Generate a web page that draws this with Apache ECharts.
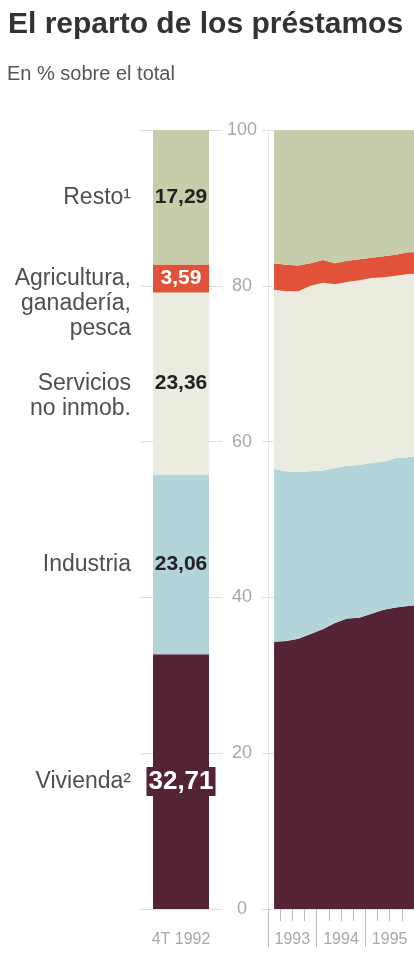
<!DOCTYPE html>
<html>
<head>
<meta charset="utf-8">
<script src="https://cdn.jsdelivr.net/npm/echarts@6/dist/echarts.min.js"></script>
<style>
html,body{margin:0;padding:0;background:#fff;}
#chart{width:414px;height:969px;}
</style>
</head>
<body>
<div id="chart"></div>
<script>
// ---- data ----
const barCategory = ['4T 1992'];
const sectorNames = ['Vivienda²', 'Industria', 'Servicios\nno inmob.', 'Agricultura,\nganadería,\npesca', 'Resto¹'];
const values1992 = [32.71, 23.06, 23.36, 3.59, 17.29];

// quarters (the last one runs past the visible edge and is clipped)
const quarters = ['1T 1993','2T 1993','3T 1993','4T 1993','1T 1994','2T 1994','3T 1994','4T 1994',
                  '1T 1995','2T 1995','3T 1995','4T 1995','1T 1996'];
const years = ['1993', '1994', '1995'];

const vivienda    = [34.3, 34.4, 34.7, 35.3, 35.9, 36.7, 37.3, 37.4, 37.9, 38.4, 38.7, 38.9, 39.0];
const industria   = [22.2, 21.8, 21.4, 20.9, 20.4, 19.9, 19.6, 19.6, 19.4, 19.0, 19.2, 19.1, 19.2];
const servicios   = [23.0, 23.1, 23.2, 23.8, 24.1, 23.6, 23.6, 23.7, 23.7, 23.7, 23.4, 23.5, 23.4];
const agricultura = [3.4, 3.4, 3.3, 2.9, 2.9, 2.7, 2.7, 2.7, 2.6, 2.7, 2.7, 2.8, 2.7];
const resto       = [17.1, 17.3, 17.4, 17.1, 16.7, 17.1, 16.8, 16.6, 16.4, 16.2, 16.0, 15.7, 15.7];
const areaSeries = [vivienda, industria, servicios, agricultura, resto];

const yMin = 0, yMax = 100, yInterval = 20;
const xMin = 1993, xMax = 1996;

// ---- style ----
const colors = ['#542335', '#b3d4d9', '#ebecdf', '#e0533a', '#c5cdab'];
const valueLabelColors = ['#fff', '#222', '#222', '#fff', '#222'];
const FONT = '"Liberation Sans", Arial, Helvetica, sans-serif';
const gridColor = '#dedede';
const axisTextColor = '#a8a8a8';

const fmt = v => v.toFixed(2).replace('.', ',');

const series = [];
values1992.forEach((v, i) => {
  const big = i === 0;
  series.push({
    type: 'bar', name: sectorNames[i], xAxisIndex: 0, yAxisIndex: 0, stack: 'bar',
    barWidth: 56, data: [v],
    itemStyle: { color: colors[i] },
    label: {
      show: true, position: 'inside', formatter: p => fmt(p.value),
      color: valueLabelColors[i], fontFamily: FONT, fontWeight: 'bold',
      fontSize: big ? 26 : 21,
      backgroundColor: big ? colors[0] : 'transparent',
      padding: big ? [2, 2, 1, 2] : 0
    },
    silent: true
  });
});
values1992.forEach((v, i) => {
  series.push({
    type: 'bar', name: 'n' + i, xAxisIndex: 1, yAxisIndex: 0, stack: 'names',
    barWidth: 56, data: [v],
    itemStyle: { color: 'rgba(0,0,0,0)' },
    label: {
      show: true, position: 'left', distance: 22, formatter: sectorNames[i],
      color: '#4f4f4f', fontFamily: FONT, fontSize: 23, lineHeight: 25,
      align: 'right', verticalAlign: 'top', offset: [0, -12.5]
    },
    silent: true, z: 1
  });
});
areaSeries.forEach((arr, i) => {
  series.push({
    type: 'line', name: 'a' + i, xAxisIndex: 4, yAxisIndex: 1, stack: 'area',
    data: arr, symbol: 'none', smooth: false, clip: true,
    lineStyle: { width: 0 },
    areaStyle: { color: colors[i], opacity: 1 },
    silent: true
  });
});

const option = {
  backgroundColor: '#fff',
  animation: false,
  title: [
    { text: 'El reparto de los préstamos', left: 3, top: 5,
      textStyle: { fontFamily: FONT, fontWeight: 'bold', fontSize: 30, color: '#333' } },
    { text: 'En % sobre el total', left: 2, top: 59,
      textStyle: { fontFamily: FONT, fontWeight: 'normal', fontSize: 20, color: '#555' } }
  ],
  grid: [
    { left: 140, top: 130, width: 82, height: 779 },
    { left: 268, top: 130, right: 0, height: 779 }
  ],
  xAxis: [
    { type: 'category', gridIndex: 0, data: barCategory, position: 'bottom',
      axisLine: { show: false }, axisTick: { show: false },
      axisLabel: { color: axisTextColor, fontFamily: FONT, fontSize: 16, margin: 23 } },
    { type: 'category', gridIndex: 0, data: barCategory, show: false },
    // tick axis: years (long ticks) and quarters (short minor ticks)
    { type: 'value', gridIndex: 1, min: xMin, max: xMax, interval: 1, position: 'bottom',
      axisLine: { show: false },
      axisTick: { show: true, length: 38, lineStyle: { color: '#bdbdbd' } },
      minorTick: { show: true, splitNumber: 4, length: 12, lineStyle: { color: '#bdbdbd' } },
      axisLabel: { show: false },
      splitLine: { show: false }, minorSplitLine: { show: false } },
    // year labels centred in each year
    { type: 'category', gridIndex: 1, data: years, boundaryGap: true, position: 'bottom',
      axisLine: { show: false }, axisTick: { show: false },
      axisLabel: { color: axisTextColor, fontFamily: FONT, fontSize: 16, margin: 23 } },
    // data axis: one band per quarter, points in the middle of each quarter
    { type: 'category', gridIndex: 1, data: quarters, boundaryGap: true, min: 0, max: years.length * 4 - 1,
      show: false }
  ],
  yAxis: [
    { type: 'value', gridIndex: 0, min: yMin, max: yMax, interval: yInterval,
      axisLabel: { show: false }, axisLine: { show: false }, axisTick: { show: false },
      splitLine: { show: true, lineStyle: { color: gridColor } } },
    { type: 'value', gridIndex: 1, min: yMin, max: yMax, interval: yInterval,
      axisLabel: { color: axisTextColor, fontFamily: FONT, fontSize: 18, align: 'center', margin: 26 },
      axisLine: { show: true, lineStyle: { color: '#e6e6e6' } },
      axisTick: { show: true, length: 6, lineStyle: { color: gridColor } },
      splitLine: { show: true, lineStyle: { color: gridColor } } }
  ],
  series: series
};

const chart = echarts.init(document.getElementById('chart'), null, { renderer: 'canvas' });
chart.setOption(option);
</script>
</body>
</html>
